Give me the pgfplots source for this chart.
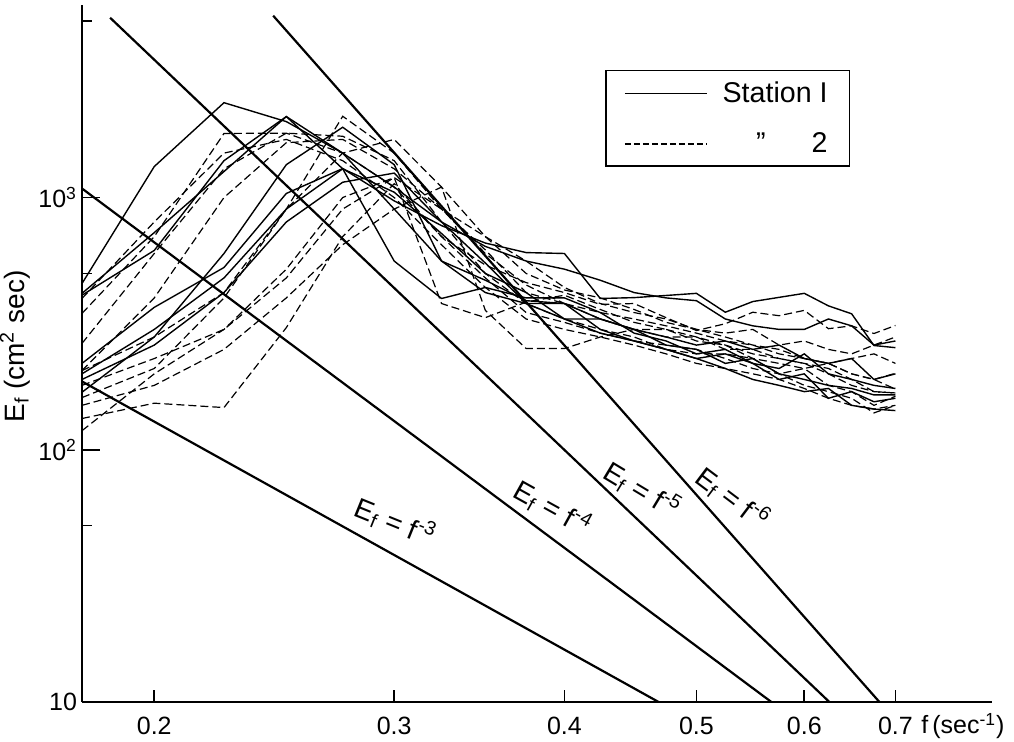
\documentclass[border=0pt]{standalone}
\usepackage{pgfplots}
\pgfplotsset{compat=1.18}
\usepackage{pgfplotstable}
\usepackage{fontspec}
\setmainfont{Liberation Sans}

\pgfplotstableread{
f      s1   s2   s3   s4   s5   s6   s7
0.177  220  456  417  410  169  200  190
0.2    367  1327 726  617  280  300  260
0.225  528  2377 1268 1400 600  480  420
0.25   1038 2000 2094 2094 1350 900  800
0.275  1303 1500 1500 1300 1900 1300 1150
0.3    970  1100 900  560  1350 1050 1250
0.325  774  800  560  398  560  720  800
0.35   660  640  470  440  420  500  550
0.375  605  560  390  400  380  420  380
0.4    600  520  380  400  380  330  330
0.425  398  470  330  350  300  330  290
0.45   401  420  300  290  270  300  270
0.475  409  400  280  270  250  260  250
0.5    417  390  260  240  230  250  230
0.525  351  330  270  250  240  220  210
0.55   387  310  250  220  220  230  190
0.575  402  300  260  210  190  200  180
0.6    417  300  230  240  200  190  170
0.625  372  330  220  200  160  180  175
0.65   346  310  230  190  170  175  150
0.675  259  260  190  180  155  165  145
0.7    254  270  200  175  160  165  143
}\stationone

\pgfplotstableread{
f      d1   d2   d3   d4   d5   d6   d7   d8   d9   d10
0.177  119  133  161  206  264  347  398  206  180  150
0.2    200  153  210  400  600  700  800  280  230  180
0.225  300  147  400  1000 1300 1795 1500 420  300  250
0.25   520  305  900  1650 1800 1800 1700 900  480  400
0.275  1000 700  1500 1700 1750 1500 1400 2100 900  650
0.3    1200 1135 1700 1300 1400 1100 1000 1500 1200 900
0.325  900  700  1100 900  800  700  650  900  380  1100
0.35   700  540  700  600  500  480  440  620  334  357
0.375  560  460  500  450  380  350  330  420  385  252
0.4    440  420  430  380  330  320  300  380  410  252
0.425  380  377  400  330  300  290  280  350  360  280
0.45   350  380  360  300  280  270  260  330  320  300
0.475  330  334  320  280  250  260  240  310  300  300
0.5    300  297  300  280  240  250  220  290  270  280
0.525  290  316  280  250  240  230  210  270  260  260
0.55   300  351  260  250  230  210  200  260  230  240
0.575  260  340  250  230  200  200  190  240  220  230
0.6    270  357  230  220  210  180  175  230  210  220
0.625  250  302  220  210  180  170  160  220  220  200
0.65   240  310  200  190  170  160  150  230  200  180
0.675  260  289  190  170  150  140  145  240  190  170
0.7    280  311  201  168  163  150  150  220  174  168
}\stationtwo

\begin{document}
\begin{tikzpicture}
\useasboundingbox (-41pt,-20pt) rectangle (466pt,351pt);
\begin{axis}[
  at={(0,0)}, anchor=south west,
  scale only axis, width=455pt, height=348.5pt,
  xmode=log, ymode=log,
  xmin=0.177, xmax=0.824, ymin=10, ymax=5800,
  axis x line*=bottom, axis y line*=left,
  axis line style={line width=1pt},
  tick align=inside,
  tick style={black, line width=0.8pt},
  major tick length=6pt,
  minor tick length=5pt,
  xtick={0.2,0.3,0.4,0.5,0.6,0.7},
  xticklabels={0.2,0.3,0.4,0.5,0.6,0.7},
  minor xtick={},
  ytick={10,100,1000},
  yticklabels={10,10\textsuperscript{2},10\textsuperscript{3}},
  minor ytick={50,500,5000},
  extra y ticks={100,1000},
  extra y tick labels={},
  extra y tick style={major tick length=9pt},
  tick label style={font=\fontsize{12.5}{14}\selectfont},
  xticklabel style={inner sep=1pt, yshift=-6.5pt},
  yticklabel style={xshift=1pt},
  xlabel={f\,(sec\textsuperscript{-1})},
  xlabel style={at={(axis description cs:0.968,0)}, anchor=base, yshift=-16pt, inner sep=0pt, font=\fontsize{12.5}{14}\selectfont},
  ylabel={E\textsubscript{f}\ (cm\textsuperscript{2} sec)},
  ylabel style={at={(axis description cs:-0.0736,0.51)}, anchor=center, font=\fontsize{14}{16}\selectfont},
  legend style={at={(rel axis cs:0.575,0.907)}, anchor=north west, draw=black, line width=0.8pt,
    font=\fontsize{14.3}{17}\selectfont, inner xsep=9pt, inner ysep=3.5pt, row sep=9.5pt,
    legend cell align=right,
    /tikz/every odd column/.append style={column sep=5.5pt}},
  legend image code/.code={\draw[#1] (0pt,0pt) -- (41pt,0pt);},
  every axis plot/.append style={black},
]
\addlegendimage{black, line width=0.8pt}
\addlegendentry{Station I}
\addlegendimage{black, line width=0.7pt, dash pattern=on 3pt off 1.5pt}
\addlegendentry{'' \hspace{15pt} 2}

\foreach \c in {s1,s2,s3,s4,s5,s6,s7}{
  \addplot[forget plot, line width=0.7pt] table[x=f, y=\c] {\stationone};
}
\foreach \c in {d1,d2,d3,d4,d5,d6,d7,d8,d9,d10}{
  \addplot[forget plot, line width=0.6pt, dash pattern=on 4pt off 2pt] table[x=f, y=\c] {\stationtwo};
}

% reference lines E_f = f^{-n}
\addplot[forget plot, line width=1.1pt] coordinates {(0.177,186.6) (0.469,10)};
\addplot[forget plot, line width=1.1pt] coordinates {(0.177,1086) (0.5675,10)};
\addplot[forget plot, line width=1.1pt] coordinates {(0.1856,5164) (0.626,10)};
\addplot[forget plot, line width=1.1pt] coordinates {(0.2445,5260) (0.6813,10)};

\node[rotate=-22, font=\fontsize{14}{16}\selectfont] at (axis cs:0.3005,51.6) {E\textsubscript{f} = f\textsuperscript{-3}};
\node[rotate=-29, font=\fontsize{14}{16}\selectfont] at (axis cs:0.392,58.6) {E\textsubscript{f} = f\textsuperscript{-4}};
\node[rotate=-31, font=\fontsize{14}{16}\selectfont] at (axis cs:0.456,69.2) {E\textsubscript{f} = f\textsuperscript{-5}};
\node[rotate=-37, font=\fontsize{14}{16}\selectfont] at (axis cs:0.5314,64.3) {E\textsubscript{f} = f\textsuperscript{-6}};
\end{axis}
\end{tikzpicture}
\end{document}
